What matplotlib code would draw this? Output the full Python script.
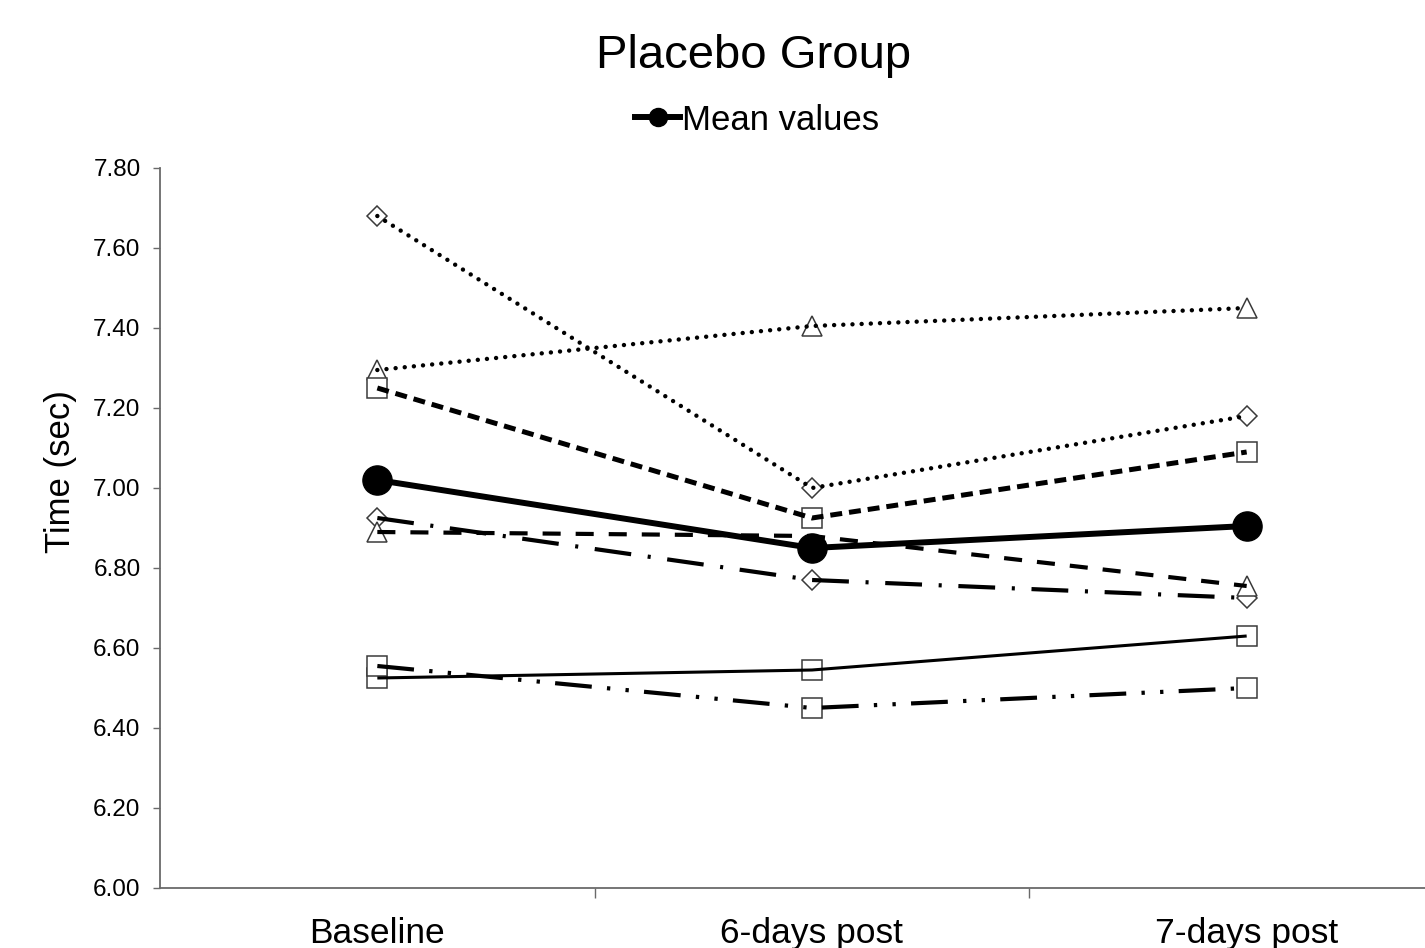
import matplotlib
matplotlib.use("Agg")
import matplotlib.pyplot as plt
from matplotlib.lines import Line2D

plt.rcParams['font.family'] = ['Liberation Sans', 'DejaVu Sans']
plt.rcParams['lines.scale_dashes'] = False

categories = ['Baseline', '6-days post', '7-days post']
yticks = [6.00, 6.20, 6.40, 6.60, 6.80, 7.00, 7.20, 7.40, 7.60, 7.80]

s_diamond_dot = [7.68, 7.00, 7.18]
s_triangle_dot = [7.295, 7.405, 7.45]
s_square_dash = [7.25, 6.925, 7.09]
mean_values = [7.02, 6.85, 6.905]
s_diamond_dashdot = [6.925, 6.77, 6.725]
s_triangle_dash = [6.89, 6.88, 6.755]
s_square_solid = [6.525, 6.545, 6.63]
s_square_dashdotdot = [6.555, 6.45, 6.50]

W, H = 1425, 948
fig = plt.figure(figsize=(W / 100, H / 100), dpi=100)
ax = fig.add_axes([160 / W, 1 - 888 / H, 1304 / W, 720 / H])

x = list(range(len(categories)))
edge = '#3a3a3a'

series = [
    (s_diamond_dot, 'D', 10.5, 3.2, (0, (0.01, 6.6)), 'round', None),
    (s_triangle_dot, '^', 14, 3.2, (0, (0.01, 6.6)), 'round', None),
    (s_square_dash, 's', 14, 3.6, (0, (8.6, 5.0)), 'butt', None),
    (s_diamond_dashdot, 'D', 10.5, 3.0, (0, (26.5, 12, 2.2, 12)), 'butt', None),
    (s_triangle_dash, '^', 14, 3.0, (0, (13, 10.8)), 'butt', [0, 2]),
    (s_square_solid, 's', 14, 2.2, '-', 'butt', None),
    (s_square_dashdotdot, 's', 14, 3.0, (0, (26.5, 11, 2.4, 11, 2.4, 11)), 'butt', None),
]

for vals, mk, ms, lw, ls, cap, mev in series:
    ax.plot(x, vals, linestyle='none', marker=mk, markersize=ms,
            markerfacecolor='white', markeredgecolor=edge, markeredgewidth=1.1,
            markevery=mev, zorder=3)
    ax.plot(x, vals, color='black', linewidth=lw, linestyle=ls,
            dash_capstyle=cap, solid_capstyle='butt', zorder=4)

ax.plot(x, mean_values, color='black', linewidth=4.3, marker='o',
        markersize=21, markerfacecolor='black', markeredgecolor='black',
        zorder=6, label='Mean values')

ax.set_xlim(-0.5, 2.5)
ax.set_ylim(6.0, 7.8)
ax.set_yticks(yticks)
ax.set_yticklabels([f'{v:.2f}' for v in yticks])
ax.set_xticks(x)
ax.set_xticklabels(categories)
ax.set_xticks([0.5, 1.5], minor=True)

for sp in ['top', 'right']:
    ax.spines[sp].set_visible(False)
for sp in ['left', 'bottom']:
    ax.spines[sp].set_color('#6a6a6a')
    ax.spines[sp].set_linewidth(1.3)

ax.tick_params(axis='y', direction='out', length=5, width=1, color='#6a6a6a',
               pad=9, labelsize=17.5)
ax.tick_params(axis='x', which='major', length=0, pad=21, labelsize=25.5)
ax.tick_params(axis='x', which='minor', direction='out', length=7.2, width=1,
               color='#6a6a6a')

ax.set_ylabel('Time (sec)', fontsize=25)
ax.yaxis.set_label_coords(-0.064, 0.578)

fig.text(754 / W, 1 - 56 / H, 'Placebo Group', fontsize=34,
         ha='center', va='center')

handle = Line2D([], [], color='black', linewidth=4.3, marker='o',
                markersize=13, markerfacecolor='black')
fig.legend([handle], ['Mean values'], loc='center',
           bbox_to_anchor=(757 / W, 1 - 120 / H), frameon=False,
           fontsize=25, handlelength=1.3, handletextpad=0.05,
           borderpad=0, borderaxespad=0)

fig.savefig('out.png', dpi=100)
